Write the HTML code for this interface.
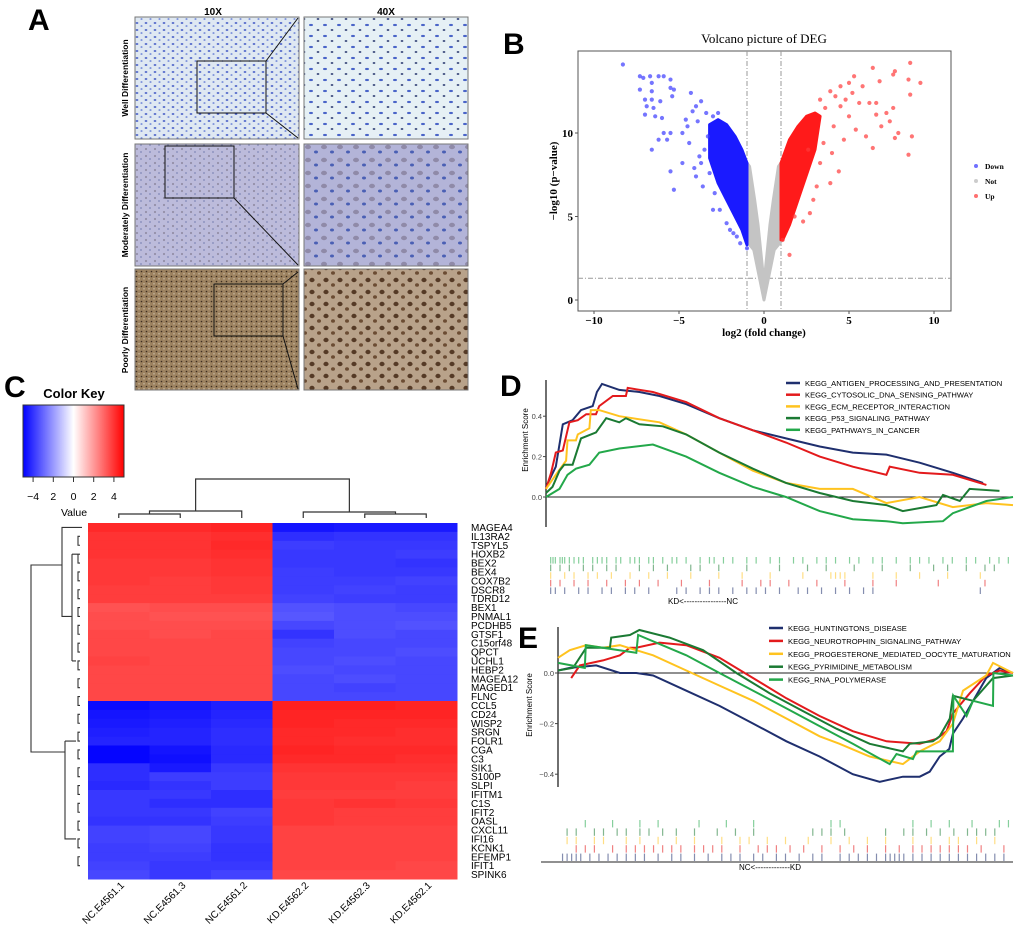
<!DOCTYPE html>
<html><head><meta charset="utf-8"><style>
html,body{margin:0;padding:0;background:#fff}
svg{display:block}
text{font-family:"Liberation Sans",Arial,sans-serif}
.serif{font-family:"Liberation Serif","Times New Roman",serif}
</style></head><body>
<svg id="fig" width="1020" height="928" viewBox="0 0 1020 928" xmlns="http://www.w3.org/2000/svg">
<defs>
<pattern id="pWell" width="9" height="7" patternUnits="userSpaceOnUse"><rect width="9" height="7" fill="#dfe8f2"/><ellipse cx="2" cy="2" rx="1.4" ry="0.9" fill="#4158c6"/><ellipse cx="6.5" cy="5" rx="1.1" ry="0.8" fill="#6078d4"/></pattern>
<pattern id="pWell40" width="14" height="11" patternUnits="userSpaceOnUse"><rect width="14" height="11" fill="#e6f0f5"/><ellipse cx="3" cy="3" rx="2" ry="1.1" fill="#4a64c8"/><ellipse cx="10" cy="8" rx="1.4" ry="0.9" fill="#27356e"/></pattern>
<pattern id="pMod" width="9" height="7" patternUnits="userSpaceOnUse"><rect width="9" height="7" fill="#bcbbdb"/><circle cx="2" cy="2" r="1.1" fill="#948fa8"/><circle cx="6" cy="5" r="0.9" fill="#8088b8"/></pattern>
<pattern id="pMod40" width="16" height="13" patternUnits="userSpaceOnUse"><rect width="16" height="13" fill="#b3b4d8"/><ellipse cx="4" cy="4" rx="3" ry="2.2" fill="#8f8aa8"/><ellipse cx="12" cy="9" rx="2" ry="1.5" fill="#4a5fb4"/></pattern>
<pattern id="pPoor" width="5" height="5" patternUnits="userSpaceOnUse"><rect width="5" height="5" fill="#9c8260"/><circle cx="1.5" cy="1.5" r="0.8" fill="#3e2e20"/><circle cx="4" cy="3.8" r="0.8" fill="#c9b79e"/></pattern>
<pattern id="pPoor40" width="14" height="12" patternUnits="userSpaceOnUse"><rect width="14" height="12" fill="#b8a28a"/><ellipse cx="4" cy="4" rx="2.6" ry="2.2" fill="#553a26"/><ellipse cx="11" cy="9" rx="2" ry="1.8" fill="#6b4c33"/></pattern>
<linearGradient id="ckGrad" x1="0" x2="1" y1="0" y2="0"><stop offset="0" stop-color="#0000ff"/><stop offset="0.5" stop-color="#ffffff"/><stop offset="1" stop-color="#ff0000"/></linearGradient>
</defs>

<g>
<text x="28" y="30" font-size="30" font-weight="bold">A</text>
<text x="213" y="15" font-size="10" font-weight="bold" text-anchor="middle">10X</text>
<text x="386" y="15" font-size="10" font-weight="bold" text-anchor="middle">40X</text>
<text transform="translate(128,78) rotate(-90)" font-size="8.5" font-weight="bold" text-anchor="middle">Well Differentiation</text>
<text transform="translate(128,205) rotate(-90)" font-size="8.5" font-weight="bold" text-anchor="middle">Moderately Differentiation</text>
<text transform="translate(128,330) rotate(-90)" font-size="8.5" font-weight="bold" text-anchor="middle">Poorly Differentiation</text>
<rect x="135" y="17" width="164" height="122" fill="url(#pWell)" stroke="#777"/>
<rect x="304" y="17" width="164" height="122" fill="url(#pWell40)" stroke="#777"/>
<rect x="135" y="144" width="164" height="122" fill="url(#pMod)" stroke="#777"/>
<rect x="304" y="144" width="164" height="122" fill="url(#pMod40)" stroke="#777"/>
<rect x="135" y="269" width="164" height="121" fill="url(#pPoor)" stroke="#777"/>
<rect x="304" y="269" width="164" height="121" fill="url(#pPoor40)" stroke="#777"/>
<g fill="none" stroke="#111" stroke-width="1">
<rect x="197" y="61" width="69" height="52"/><line x1="266" y1="61" x2="298" y2="18"/><line x1="266" y1="113" x2="298" y2="138"/>
<rect x="165" y="146" width="69" height="52"/><line x1="234" y1="198" x2="298" y2="265"/>
<rect x="214" y="284" width="69" height="52"/><line x1="283" y1="284" x2="298" y2="272"/><line x1="283" y1="336" x2="298" y2="389"/>
</g>
</g>

<g id="volcano">
<text x="503" y="54" font-size="30" font-weight="bold">B</text>
<text x="764" y="43" font-size="13" text-anchor="middle" class="serif">Volcano picture of DEG</text>
<rect x="578" y="51" width="373" height="260" fill="#fff" stroke="#555" stroke-width="1"/>
<text transform="translate(557,181) rotate(-90)" font-size="11" font-weight="bold" text-anchor="middle" class="serif">−log10 (p−value)</text>
<text x="764" y="336" font-size="11" font-weight="bold" text-anchor="middle" class="serif">log2 (fold change)</text>
<circle cx="976" cy="166" r="2" fill="#7070ff"/>
<text x="985" y="169" font-size="7.5" font-weight="bold" class="serif">Down</text>
<circle cx="976" cy="181" r="2" fill="#ccc"/>
<text x="985" y="184" font-size="7.5" font-weight="bold" class="serif">Not</text>
<circle cx="976" cy="196" r="2" fill="#ff7070"/>
<text x="985" y="199" font-size="7.5" font-weight="bold" class="serif">Up</text>
</g>

<g id="heat">
<text x="4" y="397" font-size="30" font-weight="bold">C</text>
<text x="74" y="398" font-size="13" font-weight="bold" text-anchor="middle">Color Key</text>
<rect x="23" y="405" width="101" height="72" fill="url(#ckGrad)" stroke="#333"/>
<text x="74" y="516" font-size="10.5" text-anchor="middle">Value</text>
</g>

<g id="gseaD">
<text x="500" y="396" font-size="30" font-weight="bold">D</text>
<text transform="translate(528,440) rotate(-90)" font-size="8" text-anchor="middle">Enrichment Score</text>
<text x="703" y="604" font-size="8" text-anchor="middle">KD&lt;----------------NC</text>
</g>

<g id="gseaE">
<text x="518" y="648" font-size="30" font-weight="bold">E</text>
<text transform="translate(532,705) rotate(-90)" font-size="8" text-anchor="middle">Enrichment Score</text>
<text x="770" y="870" font-size="8" text-anchor="middle">NC&lt;-------------KD</text>
</g>
</svg>

<script>
const NS = "http://www.w3.org/2000/svg";
function mk(tag, attrs, parent) {
  const e = document.createElementNS(NS, tag);
  for (const k in attrs) e.setAttribute(k, attrs[k]);
  parent.appendChild(e);
  return e;
}

const volcXTicks = [-10, -5, 0, 5, 10];
const volcYTicks = [0, 5, 10];
const downX = [-8.3,-7.3,-7.1,-6.7,-6.2,-5.9,-5.5,-7.3,-6.6,-6.6,-7,-6.6,-6.1,-6.9,-6.5,-7,-6.4,-6,-5.5,-5.3,-5.4,-5.9,-5.5,-6.2,-5.7,-6.6,-4.8,-5.5,-5.3,-4.3,-3.7,-4,-4.8,-4.6,-4.4,-3.8,-4,-3.6,-3,-2.6,-1.8,-1.4,-1,-3,-2.7,-3.4,-4.2,-3.9,-3.3,-3.5,-4.5,-3.2,-2.2,-2.0,-1.6,-3.7,-4.1,-2.9];
const downY = [14.1,13.4,13.3,13.4,13.4,13.4,13.2,12.6,13,12.5,12,12,11.9,11.6,11.5,11.1,11,10.9,12.7,12.6,12.2,10,10,9.6,9.6,9,8.2,7.7,6.6,12.4,11.9,11.6,10,10.8,9.4,8.6,7.4,6.8,5.4,5.4,4,3.4,3.1,11,11.2,11.2,11.3,10.7,9.8,9.0,10.4,7.6,4.6,4.2,3.8,8.2,7.9,6.4];
const downEnvX = [-1,-1.3,-1.7,-2.2,-2.7,-3.2,-3.2,-2.7,-2.2,-1.7,-1.3,-1];
const downEnvY = [8.2,9.0,9.8,10.5,10.8,10.5,8.5,7.0,6.0,5.0,4.2,3.3];
const upX = [8.6,6.4,7.7,7.6,9.2,8.5,8.6,6.8,5.3,5,4.5,3.9,5.8,6.2,6.6,7.6,7.2,6.6,7.4,7.9,7.7,8.7,8.5,6.4,6,5.4,5,4.5,3.3,4.1,4.7,4.4,3.9,3.3,2.7,2.3,1.8,1.5,1.1,5.6,4.8,3.1,2.9,4.2,3.6,5.2,3.5,2.6,4.0,6.9];
const upY = [14.2,13.9,13.7,13.5,13,13.2,12.3,13.1,13.4,13,12.8,12.5,12.8,11.8,11.8,11.5,11.2,11.1,10.7,10,9.7,9.8,8.7,9.1,9.8,10.2,11,11.6,12,10.4,9.6,7.7,7,8.2,5.2,4.7,5,2.7,3.6,11.8,12,6.8,6,12.2,11.5,12.4,9.4,9.0,8.8,10.4];
const upEnvX = [1,1.5,2,2.5,3,3.3,3,2.5,2,1.5,1.1,1];
const upEnvY = [8.2,9.6,10.4,11,11.2,11,9,7.5,6,4.5,3.6,3.6];
const notEnvX = [0,-0.3,-0.6,-1,-1,-0.85,-0.55,-0.35,-0.2,-0.05,0,0.05,0.2,0.35,0.55,0.85,1,1,0.6,0.3];
const notEnvY = [0,1.5,3,3.5,8.2,8,6,4.5,3,1.5,1.2,1.5,3,4.5,6,8,8.2,3.5,3,1.5];

(function(){
  const g = document.getElementById('volcano');
  const xs = v => 764 + v * 17;
  const ys = v => 300 - v * 16.7;
  let l = mk('line', {x1: xs(-1), x2: xs(-1), y1: 51, y2: 311, stroke: '#999', 'stroke-dasharray': '5,2,1,2'}, g);
  
  
  l = mk('line', {x1: xs(1), x2: xs(1), y1: 51, y2: 311, stroke: '#999', 'stroke-dasharray': '5,2,1,2'}, g);
  
  
  l = mk('line', {x1: 578, x2: 951, y1: ys(1.3), y2: ys(1.3), stroke: '#999', 'stroke-dasharray': '5,2,1,2'}, g);
  
  
  function poly(X, Y, fill, name) {
    const pts = X.map((x, i) => xs(x) + ',' + ys(Y[i])).join(' ');
    const p = mk('polygon', {points: pts, fill: fill, stroke: fill, 'stroke-width': 3, 'stroke-linejoin': 'round'}, g);
    
    
  }
  poly(notEnvX, notEnvY, '#c4c4c4', 'not-significant-cloud');
  poly(downEnvX, downEnvY, '#1a1aff', 'down-dense-cloud');
  poly(upEnvX, upEnvY, '#ff1a1a', 'up-dense-cloud');
  downX.forEach((x, i) => {
    const c = mk('circle', {cx: xs(x), cy: ys(downY[i]), r: 2.1, fill: '#3b3bff', 'fill-opacity': 0.7}, g);
    
    
  });
  upX.forEach((x, i) => {
    const c = mk('circle', {cx: xs(x), cy: ys(upY[i]), r: 2.1, fill: '#ff3b3b', 'fill-opacity': 0.7}, g);
    
    
  });
  volcXTicks.forEach(t => {
    mk('line', {x1: xs(t), x2: xs(t), y1: 311, y2: 314, stroke: '#555'}, g);
    const tx = mk('text', {x: xs(t), y: 324, 'font-size': 11, 'font-weight': 'bold', 'text-anchor': 'middle', class: 'serif'}, g);
    tx.textContent = t < 0 ? '−' + Math.abs(t) : String(t);
    
    
  });
  volcYTicks.forEach(t => {
    mk('line', {x1: 575, x2: 578, y1: ys(t), y2: ys(t), stroke: '#555'}, g);
    const tx = mk('text', {x: 573, y: ys(t) + 4, 'font-size': 11, 'font-weight': 'bold', 'text-anchor': 'end', class: 'serif'}, g);
    tx.textContent = String(t);
    
    
  });
})();

const samples = ['NC.E4561.1','NC.E4561.3','NC.E4561.2','KD.E4562.2','KD.E4562.3','KD.E4562.1'];
const genes = ['MAGEA4','IL13RA2','TSPYL5','HOXB2','BEX2','BEX4','COX7B2','DSCR8','TDRD12','BEX1','PNMAL1','PCDHB5','GTSF1','C15orf48','QPCT','UCHL1','HEBP2','MAGEA12','MAGED1','FLNC','CCL5','CD24','WISP2','SRGN','FOLR1','CGA','C3','SIK1','S100P','SLPI','IFITM1','C1S','IFIT2','OASL','CXCL11','IFI16','KCNK1','EFEMP1','IFIT1','SPINK6'];
const heatValues = [
[4.2,4.2,4.3,-4.6,-4.5,-4.5],[4.0,4.0,4.1,-4.1,-4.0,-4.0],[4.0,4.0,4.2,-3.8,-3.9,-3.9],[4.0,4.0,4.1,-3.9,-3.9,-3.8],
[3.9,3.9,4.0,-3.9,-3.9,-4.0],[3.9,3.9,4.0,-3.8,-3.9,-3.9],[3.9,3.8,3.9,-3.8,-3.8,-3.7],[3.8,3.8,3.9,-3.8,-3.7,-3.8],
[3.8,3.8,3.8,-3.7,-3.8,-3.8],[3.4,3.5,3.5,-3.4,-3.5,-3.6],[3.5,3.4,3.4,-3.3,-3.5,-3.5],[3.5,3.5,3.5,-3.6,-3.5,-3.4],
[3.6,3.5,3.6,-4.0,-3.5,-3.6],[3.6,3.6,3.6,-3.7,-3.6,-3.6],[3.6,3.6,3.6,-3.6,-3.6,-3.5],[3.7,3.6,3.6,-3.6,-3.5,-3.6],
[3.6,3.6,3.6,-3.5,-3.6,-3.6],[3.6,3.6,3.6,-3.6,-3.5,-3.6],[3.6,3.6,3.6,-3.6,-3.7,-3.6],[3.6,3.6,3.6,-3.6,-3.6,-3.6],
[-4.8,-4.6,-4.4,4.4,4.4,4.3],[-4.6,-4.5,-4.3,4.3,4.3,4.3],[-4.5,-4.4,-4.2,4.3,4.2,4.2],[-4.4,-4.3,-4.1,4.2,4.2,4.1],
[-4.3,-4.3,-4.1,4.2,4.1,4.1],[-4.9,-4.6,-4.2,4.3,4.2,4.2],[-4.9,-4.7,-4.2,4.2,4.2,4.1],[-4.1,-4.5,-3.9,4.0,4.0,4.0],
[-4.1,-3.8,-3.8,3.9,3.9,3.9],[-4.2,-4.0,-3.8,3.9,3.9,3.8],[-3.9,-3.9,-4.1,3.8,3.8,3.8],[-3.9,-4.1,-4.1,3.9,4.0,3.9],
[-3.9,-3.9,-3.7,3.9,3.8,3.8],[-4.0,-4.0,-3.8,3.9,3.8,3.8],[-3.7,-3.6,-3.9,3.7,3.7,3.7],[-3.7,-3.6,-3.9,3.7,3.7,3.7],
[-3.8,-3.7,-4.0,3.7,3.7,3.7],[-3.8,-3.8,-4.0,3.7,3.7,3.7],[-3.7,-3.9,-3.9,3.7,3.7,3.6],[-3.6,-3.9,-3.7,3.6,3.6,3.6]
];
const keyTicks = [-4,-2,0,2,4];
const keyTickLabels = ['−4','2','0','2','4'];

(function(){
  const g = document.getElementById('heat');
  const x0 = 88, x1 = 457, y0 = 523, y1 = 879;
  const cw = (x1 - x0) / samples.length, rh = (y1 - y0) / genes.length;
  function col(v) {
    const t = Math.min(1, Math.abs(v) / 5);
    const c = Math.round(255 * (1 - t));
    return v >= 0 ? `rgb(255,${c},${c})` : `rgb(${c},${c},255)`;
  }
  heatValues.forEach((row, r) => row.forEach((v, c) => {
    const rc = mk('rect', {x: x0 + c * cw, y: y0 + r * rh, width: cw + 0.5, height: rh + 0.5, fill: col(v)}, g);
    
    
  }));
  genes.forEach((gn, r) => {
    const t = mk('text', {x: 471, y: y0 + (r + 0.5) * rh + 3.5, 'font-size': 10}, g);
    t.textContent = gn;
    
    
  });
  samples.forEach((s, c) => {
    const cx = x0 + (c + 0.5) * cw + 6;
    const t = mk('text', {transform: `translate(${cx},886) rotate(-45)`, 'font-size': 10, 'text-anchor': 'end'}, g);
    t.textContent = s;
    
    
  });
  const kx = v => 23 + (v + 5) / 10 * 101;
  keyTicks.forEach((v, i) => {
    mk('line', {x1: kx(v), x2: kx(v), y1: 477, y2: 482, stroke: '#333'}, g);
    const t = mk('text', {x: kx(v), y: 500, 'font-size': 10.5, 'text-anchor': 'middle'}, g);
    t.textContent = keyTickLabels[i];
    
    
  });
  const cc = i => x0 + (i + 0.5) * cw;
  const dg = mk('g', {stroke: '#333', fill: 'none', 'stroke-width': 1.2}, g);
  
  
  const m01 = (cc(0) + cc(1)) / 2, mL = (m01 + cc(2)) / 2, m45 = (cc(4) + cc(5)) / 2, mR = (cc(3) + m45) / 2;
  mk('path', {d: `M${cc(0)},518V514H${cc(1)}V518 M${m01},514V511H${cc(2)}V518 M${mL},511V479H${mR}V512 M${cc(3)},518V512H${m45}V514 M${cc(4)},518V514H${cc(5)}V518`}, dg);
  const rr = i => y0 + (i + 0.5) * rh;
  const rg = mk('g', {stroke: '#333', fill: 'none', 'stroke-width': 1.1}, g);
  
  
  let d = `M82,${rr(0)}H62V${rr(10)}H72 M62,565H31V752H65 M65,${rr(24)}V${rr(35)}H72 M65,${rr(24)}H76 M65,${rr(35)}H76`;
  d += ` M72,${rr(3)}V${rr(15)} M72,${rr(3)}H78 M72,${rr(15)}H76`;
  for (let i = 1; i < 39; i += 2) { d += ` M80,${rr(i)}H78V${rr(i+1)}H80`; }
  mk('path', {d: d}, rg);
})();

const dNames = ['KEGG_ANTIGEN_PROCESSING_AND_PRESENTATION','KEGG_CYTOSOLIC_DNA_SENSING_PATHWAY','KEGG_ECM_RECEPTOR_INTERACTION','KEGG_P53_SIGNALING_PATHWAY','KEGG_PATHWAYS_IN_CANCER'];
const gseaColors = ['#1f2f6e','#e31a1c','#ffc31f','#1b7a33','#23a84a'];
const dTicks = [0.0, 0.2, 0.4];
const dNavyX = [0,.021,.036,.057,.075,.1,.109,.12,.157,.2,.243,.3,.371,.443,.514,.586,.657,.729,.8,.871,.936];
const dNavyY = [.05,.15,.36,.38,.43,.45,.52,.56,.53,.52,.5,.46,.39,.33,.29,.25,.22,.21,.17,.12,.07];
const dRedX = [0,.011,.021,.036,.05,.068,.086,.107,.114,.143,.171,.175,.229,.3,.371,.443,.514,.586,.657,.729,.736,.8,.871,.943];
const dRedY = [.04,.12,.22,.23,.37,.38,.41,.41,.45,.5,.5,.54,.52,.47,.39,.33,.27,.2,.15,.11,.15,.12,.11,.06];
const dYelX = [0,.021,.043,.046,.064,.068,.093,.096,.114,.157,.243,.3,.371,.443,.514,.586,.657,.729,.8,.871,.943,1];
const dYelY = [.04,.11,.18,.28,.28,.31,.34,.43,.43,.4,.37,.31,.22,.13,.07,.04,.04,-.03,0,-.05,-.03,-.04];
const dDkgX = [0,.014,.029,.039,.057,.075,.107,.129,.157,.171,.2,.25,.3,.371,.443,.514,.586,.657,.729,.764,.836,.85,.886,.907,.971];
const dDkgY = [.02,.05,.13,.16,.16,.29,.32,.39,.37,.39,.36,.35,.31,.22,.14,.07,.02,-.02,-.04,-.07,-.04,.01,-.02,.04,.03];
const dLgX = [0,.029,.046,.064,.093,.114,.157,.229,.3,.371,.443,.514,.586,.657,.729,.764,.85,.871,.943,1];
const dLgY = [0,.04,.11,.14,.16,.22,.24,.26,.2,.12,.05,0,-.07,-.11,-.12,-.13,-.12,-.08,-.02,0];
const dRugLg = [.01,.015,.02,.03,.035,.04,.05,.06,.07,.08,.1,.11,.12,.13,.15,.16,.18,.19,.2,.22,.23,.25,.27,.28,.3,.33,.35,.36,.38,.4,.43,.45,.48,.5,.53,.55,.58,.6,.62,.65,.67,.7,.72,.75,.78,.8,.82,.85,.87,.9,.92,.95,.97,.99];
const dRugDkg = [.01,.03,.05,.08,.1,.13,.15,.2,.23,.26,.31,.33,.37,.43,.5,.56,.6,.66,.72,.78,.83,.86,.9,.94,.96];
const dRugYel = [.01,.04,.06,.09,.11,.14,.18,.22,.26,.31,.37,.42,.48,.55,.61,.62,.63,.64,.7,.75,.8,.86,.93];
const dRugRed = [.01,.03,.06,.09,.13,.17,.2,.24,.29,.35,.42,.46,.48,.52,.58,.64,.7,.75,.84,.94];
const dRugNavy = [.01,.02,.04,.07,.09,.12,.14,.17,.19,.22,.28,.3,.33,.35,.37,.4,.43,.45,.47,.5,.54,.56,.59,.62,.65,.68,.7,.93];

const eNames = ['KEGG_HUNTINGTONS_DISEASE','KEGG_NEUROTROPHIN_SIGNALING_PATHWAY','KEGG_PROGESTERONE_MEDIATED_OOCYTE_MATURATION','KEGG_PYRIMIDINE_METABOLISM','KEGG_RNA_POLYMERASE'];
const eTicks = [0.0, -0.2, -0.4];
const eNavyX = [0,.026,.084,.136,.172,.209,.282,.355,.429,.502,.575,.648,.707,.758,.795,.817,.839,.86,.868,.89,.941,.971,1];
const eNavyY = [.01,.02,.03,0,0,-.01,-.07,-.13,-.2,-.27,-.33,-.4,-.43,-.41,-.41,-.39,-.33,-.3,-.24,-.18,-.02,.02,0];
const eRedX = [.029,.048,.099,.136,.158,.172,.223,.282,.355,.429,.502,.575,.648,.722,.795,.832,.854,.868,.905,.941,.971,1];
const eRedY = [-.02,.03,.05,.07,.1,.1,.12,.11,.06,-.02,-.1,-.17,-.23,-.27,-.28,-.26,-.23,-.16,-.08,-.01,.01,0];
const eYelX = [0,.026,.062,.099,.136,.172,.209,.282,.355,.429,.502,.575,.619,.685,.758,.795,.839,.868,.89,.941,.956,1];
const eYelY = [.06,.09,.11,.1,.11,.09,.07,.01,-.05,-.11,-.18,-.25,-.28,-.33,-.36,-.31,-.27,-.2,-.07,-.01,.04,0];
const eDkgX = [0,.033,.062,.114,.117,.158,.179,.245,.319,.392,.465,.538,.612,.685,.758,.773,.824,.839,.861,.868,.912,.956,1];
const eDkgY = [.01,.02,.1,.1,.14,.15,.17,.14,.09,0,-.08,-.15,-.22,-.28,-.31,-.28,-.27,-.25,-.18,-.09,-.11,-.02,-.01];
const eLgX = [0,.059,.061,.172,.176,.282,.355,.429,.502,.575,.648,.729,.744,.78,.788,.868,.869,.898,.912,.956,.957,1];
const eLgY = [.04,.02,.11,.08,.15,.07,0,-.07,-.14,-.21,-.28,-.36,-.32,-.34,-.31,-.31,-.09,-.17,-.11,-.13,0,-.01];
const eRugLg = [.06,.12,.18,.22,.31,.37,.43,.6,.62,.78,.82,.86,.91,.97,.99];
const eRugDkg = [.02,.04,.08,.1,.13,.15,.18,.2,.23,.26,.3,.35,.39,.43,.56,.58,.6,.63,.72,.76,.78,.81,.84,.87,.9,.92,.94,.96];
const eRugYel = [.02,.04,.08,.1,.15,.18,.22,.26,.3,.36,.4,.42,.46,.5,.55,.6,.64,.68,.72,.78,.82,.86,.88,.92,.96];
const eRugRed = [.04,.06,.08,.12,.15,.17,.19,.21,.23,.25,.27,.3,.32,.34,.36,.4,.44,.46,.48,.51,.54,.58,.62,.65,.68,.72,.75,.78,.8,.82,.84,.86,.88,.9,.93,.98];
const eRugNavy = [.01,.02,.03,.04,.05,.07,.09,.11,.13,.15,.17,.19,.22,.25,.27,.3,.33,.36,.38,.4,.43,.45,.48,.5,.53,.56,.58,.62,.64,.66,.68,.7,.72,.73,.74,.75,.76,.78,.8,.82,.84,.86,.88,.9,.92,.94,.96,.98];

function drawGsea(gid, cfg) {
  const g = document.getElementById(gid);
  const xs = f => cfg.xl + f * (cfg.xr - cfg.xl);
  const ys = v => cfg.y0 - v * cfg.ppu;
  mk('line', {x1: cfg.axX, x2: cfg.axX, y1: cfg.axTop, y2: cfg.axBot, stroke: '#222', 'stroke-width': 1.3}, g);
  mk('line', {x1: cfg.axX, x2: cfg.xr, y1: ys(0), y2: ys(0), stroke: '#222', 'stroke-width': 1}, g);
  cfg.ticks.forEach(t => {
    mk('line', {x1: cfg.axX - 3, x2: cfg.axX, y1: ys(t), y2: ys(t), stroke: '#444'}, g);
    const tx = mk('text', {x: cfg.axX - 4, y: ys(t) + 3, 'font-size': 7.5, 'text-anchor': 'end', fill: '#444'}, g);
    tx.textContent = t === 0 ? '0.0' : (t < 0 ? '−' + Math.abs(t).toFixed(1) : t.toFixed(1));
    
    
  });
  cfg.series.forEach((s, i) => {
    const pts = s[0].map((x, k) => xs(x).toFixed(1) + ',' + ys(s[1][k]).toFixed(1)).join(' ');
    const pl = mk('polyline', {points: pts, fill: 'none', stroke: gseaColors[i], 'stroke-width': 2}, g);
    
    
  });
  cfg.names.forEach((n, i) => {
    const y = cfg.legY + i * cfg.legDy;
    const ln = mk('line', {x1: cfg.legX, x2: cfg.legX + 14, y1: y, y2: y, stroke: gseaColors[i], 'stroke-width': 2.5}, g);
    
    
    const t = mk('text', {x: cfg.legX + 19, y: y + 3, 'font-size': 7.6}, g);
    t.textContent = n;
    
    
  });
  const rugOrder = [4, 3, 2, 1, 0];
  cfg.rugs.forEach((arr, j) => {
    const ci = rugOrder[j];
    const y = cfg.rugTop + j * cfg.rugH;
    arr.forEach(f => {
      const r = mk('line', {x1: xs(f), x2: xs(f), y1: y, y2: y + cfg.rugH - 1, stroke: gseaColors[ci], 'stroke-opacity': 0.55, 'stroke-width': 1.2}, g);
      
      
    });
  });
  if (cfg.base) mk('line', {x1: cfg.base[0], x2: cfg.xr, y1: cfg.base[1], y2: cfg.base[1], stroke: '#222'}, g);
}

drawGsea('gseaD', {
  xl: 546, xr: 1013, y0: 497, ppu: 202, axX: 546, axTop: 380, axBot: 527, ticks: dTicks,
  series: [[dNavyX,dNavyY],[dRedX,dRedY],[dYelX,dYelY],[dDkgX,dDkgY],[dLgX,dLgY]],
  names: dNames, legX: 786, legY: 383, legDy: 11.7,
  rugs: [dRugLg, dRugDkg, dRugYel, dRugRed, dRugNavy], rugTop: 557, rugH: 7.6, base: null
});
drawGsea('gseaE', {
  xl: 558, xr: 1013, y0: 673, ppu: 253, axX: 558, axTop: 627, axBot: 787, ticks: eTicks,
  series: [[eNavyX,eNavyY],[eRedX,eRedY],[eYelX,eYelY],[eDkgX,eDkgY],[eLgX,eLgY]],
  names: eNames, legX: 769, legY: 628, legDy: 12.9,
  rugs: [eRugLg, eRugDkg, eRugYel, eRugRed, eRugNavy], rugTop: 820, rugH: 8.4, base: [541, 862]
});
</script>
</body></html>
